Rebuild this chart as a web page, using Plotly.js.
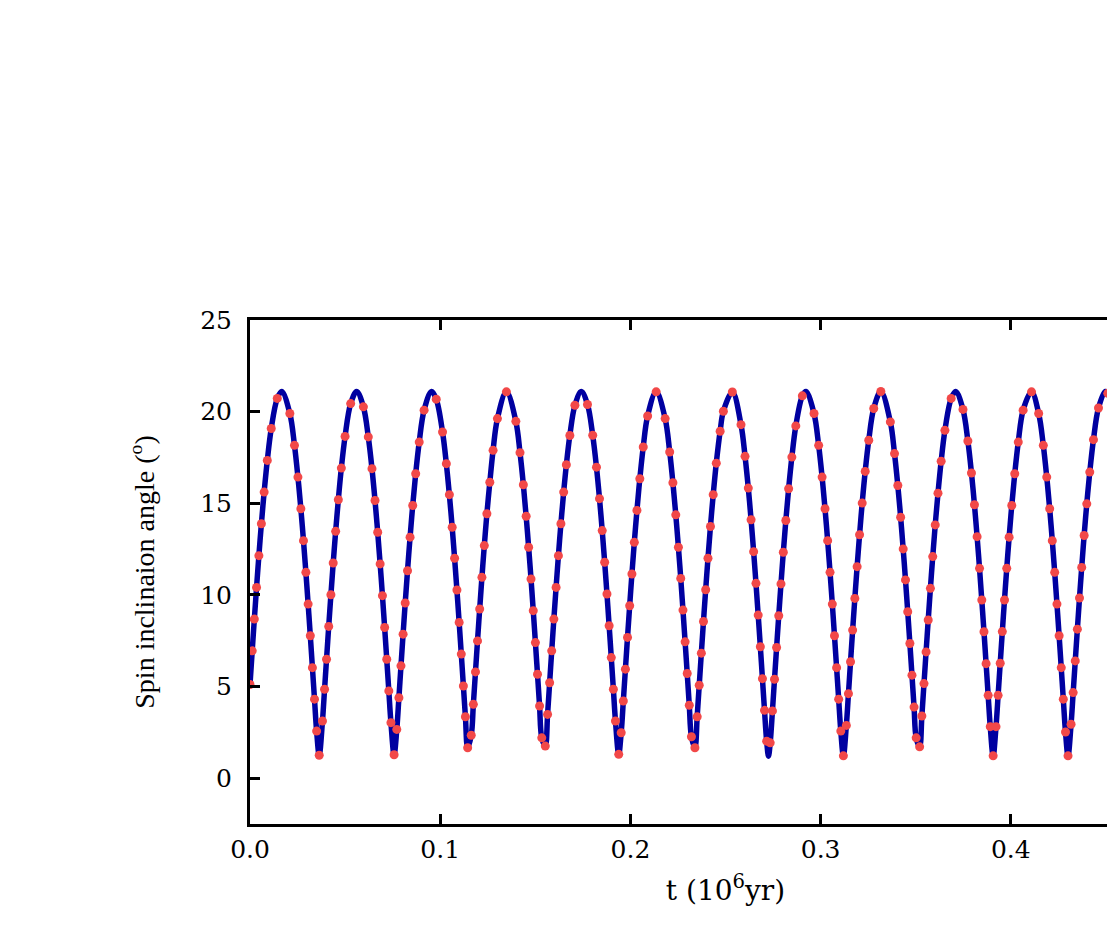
<!DOCTYPE html>
<html>
<head>
<meta charset="utf-8">
<script src="https://cdn.plot.ly/plotly-3.0.1.min.js"></script>
<style>
  html, body { margin: 0; padding: 0; background: #fff; overflow: hidden; }
  #chart { width: 1250px; height: 941px; }
</style>
</head>
<body>
<div id="chart"></div>
<script>
// red dots: time (10^6 yr) and spin inclination (deg)
const dotT = [
  0.00000, 0.00116, 0.00228, 0.00345, 0.00467, 0.00599, 0.00744, 0.00910, 0.01117, 0.01433,
  0.02095, 0.02339, 0.02520, 0.02674, 0.02812, 0.02938, 0.03057, 0.03171, 0.03282, 0.03391, 0.03503, 0.03639,
  0.03810, 0.03920, 0.04024, 0.04139, 0.04254, 0.04375, 0.04504, 0.04644, 0.04803, 0.04999, 0.05293,
  0.05962, 0.06219, 0.06413, 0.06573, 0.06714, 0.06843, 0.06963, 0.07079, 0.07190, 0.07299, 0.07410, 0.07576,
  0.07717, 0.07829, 0.07938, 0.08049, 0.08161, 0.08282, 0.08416, 0.08555, 0.08711, 0.08897, 0.09153,
  0.09793, 0.10123, 0.10323, 0.10482, 0.10630, 0.10757, 0.10879, 0.10997, 0.11109, 0.11219, 0.11326, 0.11444,
  0.11632, 0.11743, 0.11855, 0.11962, 0.12076, 0.12194, 0.12319, 0.12455, 0.12609, 0.12780, 0.13009, 0.13481,
  0.13978, 0.14196, 0.14372, 0.14519, 0.14650, 0.14775, 0.14892, 0.15006, 0.15116, 0.15225, 0.15340,
  0.15525, 0.15645, 0.15754, 0.15864, 0.15976, 0.16093, 0.16215, 0.16347, 0.16492, 0.16633, 0.16816, 0.17083,
  0.17744, 0.18019, 0.18217, 0.18376, 0.18518, 0.18647, 0.18768, 0.18883, 0.18995, 0.19105, 0.19215, 0.19387,
  0.19516, 0.19628, 0.19738, 0.19848, 0.19962, 0.20080, 0.20206, 0.20344, 0.20496, 0.20675, 0.20906, 0.21355,
  0.21827, 0.22066, 0.22235, 0.22386, 0.22524, 0.22647, 0.22764, 0.22877, 0.22987, 0.23096, 0.23209,
  0.23392, 0.23511, 0.23619, 0.23730, 0.23842, 0.23958, 0.24079, 0.24209, 0.24354, 0.24516, 0.24718, 0.24889, 0.25359,
  0.25815, 0.26028, 0.26199, 0.26345, 0.26479, 0.26602, 0.26719, 0.26832, 0.26942, 0.27051, 0.27164,
  0.27350, 0.27468, 0.27577, 0.27687, 0.27799, 0.27917, 0.28040, 0.28172, 0.28319, 0.28489, 0.28696, 0.29041,
  0.29654, 0.29898, 0.30079, 0.30233, 0.30371, 0.30497, 0.30616, 0.30730, 0.30841, 0.30950, 0.31062, 0.31198,
  0.31354, 0.31464, 0.31574, 0.31685, 0.31800, 0.31920, 0.32049, 0.32187, 0.32345, 0.32532, 0.32793, 0.33166,
  0.33667, 0.33886, 0.34060, 0.34208, 0.34342, 0.34463, 0.34581, 0.34694, 0.34804, 0.34914, 0.35025,
  0.35207, 0.35324, 0.35436, 0.35546, 0.35658, 0.35774, 0.35896, 0.36027, 0.36172, 0.36338, 0.36536, 0.36866,
  0.37486, 0.37743, 0.37932, 0.38089, 0.38228, 0.38356, 0.38475, 0.38590, 0.38701, 0.38810, 0.38920, 0.39072,
  0.39223, 0.39333, 0.39443, 0.39554, 0.39668, 0.39787, 0.39912, 0.40051, 0.40207, 0.40393, 0.40649, 0.41090,
  0.41465, 0.41709, 0.41890, 0.42044, 0.42182, 0.42308, 0.42427, 0.42541, 0.42652, 0.42761, 0.42876, 0.43009,
  0.43169, 0.43279, 0.43389, 0.43500, 0.43612, 0.43728, 0.43856, 0.43995, 0.44152, 0.44346, 0.44610, 0.45099
];
const dotAngle = [
  5.11, 6.95, 8.68, 10.41, 12.14, 13.88, 15.61, 17.34, 19.08, 20.72,
  19.90, 18.16, 16.43, 14.70, 12.96, 11.23, 9.50, 7.77, 6.03, 4.31, 2.57, 1.25,
  3.12, 4.85, 6.49, 8.28, 10.01, 11.74, 13.47, 15.19, 16.92, 18.65, 20.44,
  20.26, 18.62, 16.89, 15.15, 13.42, 11.69, 9.96, 8.22, 6.49, 4.76, 3.03, 1.28,
  2.66, 4.39, 6.13, 7.86, 9.56, 11.32, 13.15, 14.88, 16.61, 18.34, 20.08,
  20.68, 18.89, 17.16, 15.47, 13.69, 12.00, 10.27, 8.50, 6.77, 5.03, 3.35, 1.66,
  2.34, 4.03, 5.80, 7.49, 9.23, 10.96, 12.69, 14.43, 16.15, 17.89, 19.62, 21.08,
  19.47, 17.76, 16.01, 14.29, 12.60, 10.87, 9.14, 7.40, 5.67, 3.94, 2.20,
  1.75, 3.48, 5.21, 6.95, 8.68, 10.41, 12.14, 13.88, 15.61, 17.10, 18.70, 20.35,
  20.39, 18.71, 16.97, 15.25, 13.51, 11.78, 10.05, 8.32, 6.58, 4.85, 3.12, 1.30,
  2.48, 4.21, 5.95, 7.68, 9.41, 11.14, 12.87, 14.61, 16.34, 18.07, 19.76, 21.08,
  19.62, 17.80, 16.12, 14.37, 12.60, 10.90, 9.17, 7.44, 5.71, 3.98, 2.26,
  1.66, 3.35, 5.07, 6.82, 8.55, 10.28, 12.00, 13.73, 15.47, 17.19, 18.93, 20.02, 21.07,
  19.29, 17.56, 15.83, 14.10, 12.36, 10.63, 8.90, 7.17, 5.43, 3.70, 2.02,
  1.93, 3.67, 5.40, 7.13, 8.86, 10.60, 12.33, 14.06, 15.79, 17.52, 19.22, 20.86,
  19.90, 18.16, 16.43, 14.70, 12.96, 11.23, 9.50, 7.77, 6.03, 4.31, 2.57, 1.22,
  2.88, 4.61, 6.35, 8.08, 9.81, 11.54, 13.28, 15.01, 16.74, 18.44, 20.17, 21.10,
  19.44, 17.71, 15.97, 14.24, 12.51, 10.82, 9.08, 7.35, 5.62, 3.88, 2.20,
  1.71, 3.39, 5.16, 6.89, 8.63, 10.36, 12.09, 13.82, 15.55, 17.29, 18.98, 20.72,
  20.12, 18.40, 16.65, 14.92, 13.18, 11.45, 9.72, 7.99, 6.25, 4.52, 2.81, 1.22,
  2.81, 4.52, 6.27, 8.00, 9.72, 11.45, 13.15, 14.88, 16.61, 18.34, 20.08, 21.08,
  19.90, 18.16, 16.43, 14.70, 12.96, 11.23, 9.50, 7.77, 6.03, 4.31, 2.52, 1.22,
  2.94, 4.67, 6.40, 8.13, 9.83, 11.50, 13.24, 14.97, 16.70, 18.47, 20.20, 21.00
];

// turning points of the blue curve
const peakT = [0.01670, 0.05607, 0.09544, 0.13481, 0.17418, 0.21355, 0.25292, 0.29229, 0.33166, 0.37103, 0.41040, 0.44977];
const peakAngle = [21.1, 21.1, 21.1, 21.1, 21.1, 21.1, 21.1, 21.1, 21.1, 21.1, 21.1, 21.1];
const troughT = [0.03639, 0.07576, 0.11513, 0.15450, 0.19387, 0.23324, 0.27261, 0.31198, 0.35135, 0.39072, 0.43009];
const troughAngle = [1.2, 1.2, 1.2, 1.2, 1.2, 1.2, 1.2, 1.2, 1.2, 1.2, 1.2];

const yTicks = [0, 5, 10, 15, 20, 25];
const xTicks = [0.0, 0.1, 0.2, 0.3, 0.4];

// the curve runs through the dots and the turning points
const linePts = dotT.map((t, i) => [t, dotAngle[i]]);
function addTurns(ts, vals) {
  ts.forEach((t, i) => {
    if (!dotT.some(d => Math.abs(d - t) < 0.0008)) linePts.push([t, vals[i]]);
  });
}
addTurns(peakT, peakAngle);
addTurns(troughT, troughAngle);
linePts.sort((a, b) => a[0] - b[0]);

const curve = {
  x: linePts.map(p => p[0]),
  y: linePts.map(p => p[1]),
  mode: 'lines',
  type: 'scatter',
  line: { color: '#0000a0', width: 5.5, shape: 'spline', smoothing: 1 },
  hoverinfo: 'skip',
};

const dots = {
  x: dotT,
  y: dotAngle,
  mode: 'markers',
  type: 'scatter',
  marker: { color: '#f24848', size: 9 },
};

const axisStyle = {
  showline: true,
  linecolor: '#000',
  linewidth: 3,
  mirror: 'ticks',
  ticks: 'inside',
  ticklen: 10,
  tickwidth: 3,
  tickcolor: '#000',
  showgrid: false,
  zeroline: false,
  tickfont: { family: 'DejaVu Serif', size: 25, color: '#000' },
};

const layout = {
  width: 1250,
  height: 941,
  margin: { l: 250, r: 49, t: 320, b: 117 },
  showlegend: false,
  paper_bgcolor: '#fff',
  plot_bgcolor: '#fff',
  xaxis: Object.assign({}, axisStyle, {
    range: [0, 0.5],
    tickmode: 'array',
    tickvals: xTicks,
    ticktext: xTicks.map(v => v.toFixed(1)),
    ticklabelstandoff: 1,
    title: {
      text: 't (10<sup>6</sup>yr)',
      font: { family: 'DejaVu Serif', size: 28, color: '#000' },
      standoff: 18,
    },
  }),
  yaxis: Object.assign({}, axisStyle, {
    range: [-2.5, 25],
    tickmode: 'array',
    tickvals: yTicks,
    ticklabelstandoff: 10,
    title: {
      text: 'Spin inclinaion angle (<sup>o</sup>)',
      font: { family: 'Liberation Serif', size: 28, color: '#000' },
      standoff: 38,
    },
  }),
};

Plotly.newPlot('chart', [curve, dots], layout, { displayModeBar: false, staticPlot: true });
</script>
</body>
</html>
